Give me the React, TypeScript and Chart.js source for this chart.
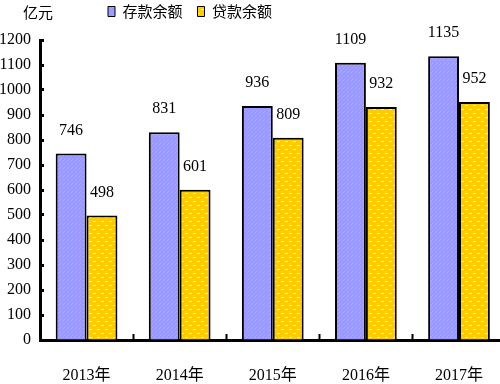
import React, { useEffect, useRef } from 'react';
import { Chart, registerables } from 'chart.js';

Chart.register(...registerables);

const years = ['2013年', '2014年', '2015年', '2016年', '2017年'];
const deposits = [746, 831, 936, 1109, 1135];
const loans = [498, 601, 809, 932, 952];
const seriesNames = ['存款余额', '贷款余额'];
const unitLabel = '亿元';
const yMin = 0;
const yMax = 1200;
const yStep = 100;

function makeDepositPattern(): CanvasPattern | string {
  const c = document.createElement('canvas');
  c.width = 8;
  c.height = 8;
  const g = c.getContext('2d');
  if (!g) return '#9999FF';
  g.fillStyle = '#9999FF';
  g.fillRect(0, 0, 8, 8);
  g.fillStyle = '#FF88CC';
  const dots = [
    [7, 0], [6, 1], [4, 3], [3, 4], [1, 6], [0, 7],
    [3, 0], [2, 1], [0, 3], [7, 4], [5, 6], [4, 7],
  ];
  dots.forEach(([x, y]) => g.fillRect(x, y, 1, 1));
  return g.createPattern(c, 'repeat') || '#9999FF';
}

function makeLoanPattern(): CanvasPattern | string {
  const c = document.createElement('canvas');
  c.width = 8;
  c.height = 8;
  const g = c.getContext('2d');
  if (!g) return '#FFCC00';
  g.fillStyle = '#FFCC00';
  g.fillRect(0, 0, 8, 8);
  g.fillStyle = '#CCFFFF';
  g.fillRect(1, 1, 3, 1);
  g.fillRect(5, 5, 3, 1);
  return g.createPattern(c, 'repeat') || '#FFCC00';
}

const numFont = '"Liberation Serif", "DejaVu Serif", serif';
const cjkFont = '"Noto Sans CJK SC", "Noto Sans", sans-serif';

export default function App() {
  const ref = useRef<HTMLCanvasElement>(null);

  useEffect(() => {
    const canvas = ref.current;
    if (!canvas) return;
    const blue = makeDepositPattern();
    const yellow = makeLoanPattern();

    const custom = {
      id: 'custom',
      beforeLayout(chart: any) {
        const lg = chart.legend;
        if (lg && !lg._wrappedFit) {
          const f = lg.fit.bind(lg);
          lg.fit = () => {
            f();
            lg.height = 40;
          };
          lg._wrappedFit = true;
        }
      },
      afterLayout(chart: any) {
        const lg = chart.legend;
        if (!lg) return;
        const w = lg.width;
        const h = lg.height;
        lg.left = 93;
        lg.right = 93 + w;
        lg.top = -11;
        lg.bottom = -11 + h;
      },
      afterDatasetsDraw(chart: any) {
        const ctx = chart.ctx;
        ctx.save();
        ctx.font = `16px ${numFont}`;
        ctx.fillStyle = '#000';
        ctx.textAlign = 'center';
        ctx.textBaseline = 'middle';
        chart.data.datasets.forEach((ds: any, i: number) => {
          chart.getDatasetMeta(i).data.forEach((el: any, j: number) => {
            ctx.fillText(String(ds.data[j]), el.x, el.y - 23);
          });
        });
        ctx.restore();
      },
      afterDraw(chart: any) {
        const ctx = chart.ctx;
        ctx.save();
        ctx.font = `15px ${cjkFont}`;
        ctx.fillStyle = '#000';
        ctx.textAlign = 'center';
        ctx.textBaseline = 'middle';
        ctx.fillText(unitLabel, 38, 12);
        ctx.restore();
      },
    };

    const chart = new Chart(canvas, {
      type: 'bar',
      data: {
        labels: years,
        datasets: [
          {
            label: seriesNames[0],
            data: deposits,
            backgroundColor: blue as any,
            borderColor: '#000',
            borderWidth: 2,
            borderSkipped: 'start',
          },
          {
            label: seriesNames[1],
            data: loans,
            backgroundColor: yellow as any,
            borderColor: '#000',
            borderWidth: 2,
            borderSkipped: 'start',
          },
        ],
      },
      options: {
        responsive: false,
        animation: false,
        devicePixelRatio: 1,
        layout: { padding: 0 },
        datasets: { bar: { categoryPercentage: 0.663, barPercentage: 1 } },
        plugins: {
          tooltip: { enabled: false },
          legend: {
            position: 'top',
            align: 'start',
            labels: {
              color: '#000',
              font: { family: cjkFont, size: 15 },
              boxWidth: 7,
              boxHeight: 10,
              padding: 15,
              generateLabels(chart: any) {
                const items = Chart.defaults.plugins.legend.labels.generateLabels(chart);
                return items.map((it: any) => ({ ...it, lineWidth: 1, strokeStyle: '#000' }));
              },
            },
          },
        },
        scales: {
          x: {
            offset: true,
            grid: {
              offset: true,
              drawOnChartArea: false,
              tickLength: -6,
              tickWidth: 2,
              tickColor: '#000',
            },
            border: { color: '#000', width: 3 },
            ticks: {
              color: '#000',
              font: { family: `${numFont}, ${cjkFont}`, size: 16 },
              padding: 32,
              maxRotation: 0,
            },
            afterFit(s: any) {
              s.height = 44;
            },
          },
          y: {
            min: yMin,
            max: yMax,
            grid: {
              drawOnChartArea: false,
              tickLength: -4,
              tickWidth: 3,
              tickColor: '#000',
            },
            border: { color: '#000', width: 3 },
            ticks: {
              stepSize: yStep,
              color: '#000',
              font: { family: numFont, size: 16 },
              padding: 13,
              callback: (v: any) => String(v),
            },
            afterFit(s: any) {
              s.width = 40;
            },
          },
        },
      },
      plugins: [custom],
    });
    return () => chart.destroy();
  }, []);

  return (
    <div
      style={{
        position: 'fixed',
        left: 0,
        top: 0,
        width: 500,
        height: 384,
        overflow: 'hidden',
        background: '#fff',
      }}
    >
      <canvas ref={ref} width={515} height={384} style={{ display: 'block' }} />
    </div>
  );
}
